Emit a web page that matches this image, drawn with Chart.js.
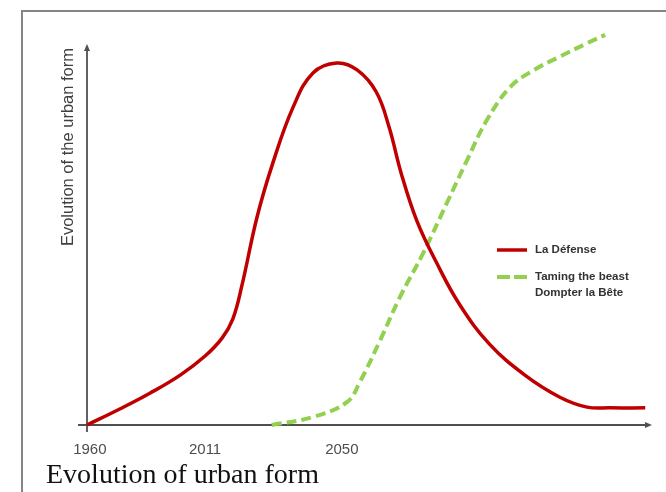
<!DOCTYPE html>
<html>
<head>
<meta charset="utf-8">
<script src="https://cdn.jsdelivr.net/npm/chart.js@4/dist/chart.umd.min.js"></script>
<style>
  html, body { margin: 0; padding: 0; background: #fff; }
  #wrap { position: relative; width: 666px; height: 492px; overflow: hidden; background: #fff; }
  #frame { position: absolute; left: 21px; top: 10px; width: 700px; height: 520px;
           border: 2px solid #858585; box-sizing: border-box; }
  #c { position: absolute; left: 0; top: 0; }
  #caption { position: absolute; left: 46px; top: 460px; white-space: nowrap;
             font: 28px 'Liberation Serif', 'Times New Roman', serif; line-height: 28px; color: #111; }
</style>
</head>
<body>
<div id="wrap">
  <div id="frame"></div>
  <canvas id="c" width="666" height="492" style="width:666px;height:492px"></canvas>
  <div id="caption">Evolution of urban form</div>
</div>
<script>
// Series names (second one is printed on two lines in the key)
const seriesNames = ['La Défense', 'Taming the beast\nDompter la Bête'];

// La Défense: slow growth, sharp peak, then decline to a low plateau
const laDefenseX = [0, 5.8, 11.2, 16.5, 20.9, 23.9, 25.8, 27.4, 30.1, 32.9, 36.5, 40.0, 44.2, 47.8, 51.2, 53.5, 55.6, 58.4, 61.9, 66.0, 71.2, 77.5, 83.7, 88.5, 92.6, 98.8];
const laDefenseY = [0, 4.2, 8.4, 13.1, 18.1, 22.8, 27.8, 36.5, 54.6, 68.8, 83.5, 92.4, 95.0, 93.2, 87.4, 78.0, 66.1, 53.5, 42.5, 31.5, 21.3, 13.1, 7.3, 4.7, 4.5, 4.5];

// Taming the beast: late start, S-shaped rise
const tamingX = [32.7, 40.0, 46.0, 48.3, 51.9, 55.4, 59.5, 63.7, 67.3, 70.8, 74.9, 78.9, 83.7, 88.5, 91.7];
const tamingY = [0, 2.1, 6.0, 11.3, 22.3, 33.6, 45.1, 58.3, 69.6, 80.1, 88.7, 93.0, 96.7, 100.2, 102.4];

// Time axis labels and where they sit along the axis
const tickYears = ['1960', '2011', '2050'];
const tickPositions = [0.5, 20.9, 45.1];

const axisTitle = 'Evolution of the urban form';

const toPoints = (xs, ys) => xs.map((x, i) => ({ x: x, y: ys[i] }));

// Axis lines with arrowheads, drawn under the curves, plus the vertical title
const axesArrows = {
  id: 'axesArrows',
  beforeDatasetsDraw(chart) {
    const { ctx, chartArea: a, scales: { x, y } } = chart;
    const x0 = x.getPixelForValue(0);
    const y0 = y.getPixelForValue(0);
    ctx.save();
    ctx.strokeStyle = '#505050';
    ctx.fillStyle = '#505050';
    ctx.lineWidth = 1.8;
    ctx.beginPath();
    ctx.moveTo(x0, y0 + 7);
    ctx.lineTo(x0, a.top + 5);
    ctx.stroke();
    ctx.beginPath();
    ctx.moveTo(x0 - 9, y0);
    ctx.lineTo(a.right - 5, y0);
    ctx.stroke();
    ctx.beginPath();
    ctx.moveTo(x0, a.top);
    ctx.lineTo(x0 - 3, a.top + 7);
    ctx.lineTo(x0 + 3, a.top + 7);
    ctx.closePath();
    ctx.fill();
    ctx.beginPath();
    ctx.moveTo(a.right, y0);
    ctx.lineTo(a.right - 7, y0 - 3);
    ctx.lineTo(a.right - 7, y0 + 3);
    ctx.closePath();
    ctx.fill();
    ctx.restore();
  },
  afterDraw(chart) {
    const { ctx, chartArea: a } = chart;
    ctx.save();
    ctx.translate(a.left - 19, a.top + 4);
    ctx.rotate(-Math.PI / 2);
    ctx.font = '16.5px "Liberation Sans", Arial, sans-serif';
    ctx.fillStyle = '#404040';
    ctx.textAlign = 'right';
    ctx.textBaseline = 'middle';
    ctx.fillText(axisTitle, 0, 0);
    ctx.restore();
  }
};

// Key drawn inside the plot, right of the crossing point
const legendBox = {
  id: 'legendBox',
  afterDraw(chart) {
    const { ctx, chartArea: a } = chart;
    const x1 = a.left + 410;
    let yy = a.top + 206;
    ctx.save();
    ctx.font = 'bold 11.5px "Liberation Sans", Arial, sans-serif';
    ctx.textBaseline = 'middle';
    ctx.textAlign = 'left';
    chart.data.datasets.forEach(ds => {
      ctx.strokeStyle = ds.borderColor;
      ctx.lineWidth = ds.borderWidth;
      ctx.setLineDash(ds.borderDash ? [13, 4] : []);
      ctx.beginPath();
      ctx.moveTo(x1, yy);
      ctx.lineTo(x1 + 30, yy);
      ctx.stroke();
      ctx.setLineDash([]);
      ctx.fillStyle = '#333';
      ds.label.split('\n').forEach((t, k) => ctx.fillText(t, x1 + 38, yy + k * 16));
      yy += 27;
    });
    ctx.restore();
  }
};

new Chart(document.getElementById('c'), {
  type: 'line',
  data: {
    datasets: [
      {
        label: seriesNames[0],
        data: toPoints(laDefenseX, laDefenseY),
        borderColor: '#c00000',
        borderWidth: 3.5,
        tension: 0.4,
        pointRadius: 0,
        fill: false,
        clip: false
      },
      {
        label: seriesNames[1],
        data: toPoints(tamingX, tamingY),
        borderColor: '#92d050',
        borderWidth: 4,
        borderDash: [10, 5],
        tension: 0.4,
        pointRadius: 0,
        fill: false,
        clip: false
      }
    ]
  },
  options: {
    responsive: false,
    animation: false,
    layout: { padding: { left: 87, top: 44, right: 14, bottom: 33 } },
    plugins: { legend: { display: false }, tooltip: { enabled: false } },
    scales: {
      x: {
        type: 'linear',
        min: 0,
        max: 100,
        afterFit(s) { s.height = 34; },
        afterBuildTicks(s) { s.ticks = tickPositions.map(v => ({ value: v })); },
        grid: { display: false, drawTicks: false },
        border: { display: false },
        ticks: {
          autoSkip: false,
          maxRotation: 0,
          padding: 16,
          color: '#4d4d4d',
          font: { family: '"Liberation Sans", Arial, sans-serif', size: 15 },
          callback: (v, i) => tickYears[i]
        }
      },
      y: {
        type: 'linear',
        min: 0,
        max: 100,
        afterFit(s) { s.width = 0; },
        grid: { display: false },
        border: { display: false },
        ticks: { display: false }
      }
    }
  },
  plugins: [axesArrows, legendBox]
});
</script>
</body>
</html>
